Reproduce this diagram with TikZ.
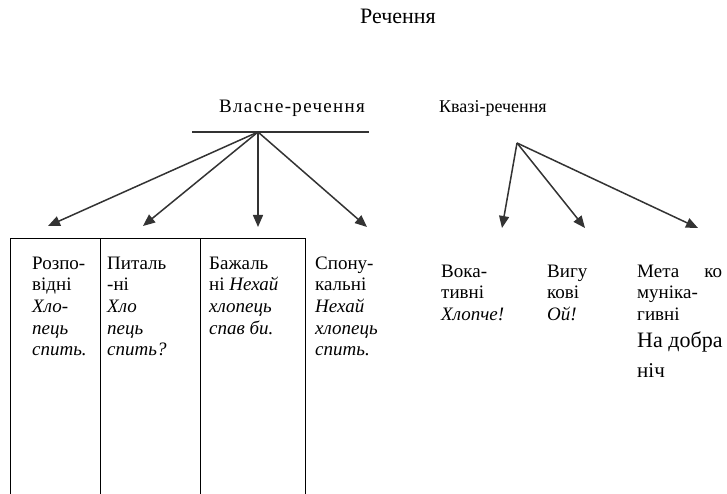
\documentclass[tikz,border=0pt]{standalone}
\usepackage{fontspec}
\setmainfont{Liberation Serif}
\usetikzlibrary{arrows.meta}
\begin{document}
\begin{tikzpicture}[x=1pt,y=-1pt,
  lbl/.style={inner sep=0pt,anchor=north west,align=left,font=\fontsize{19}{21.6}\selectfont},
  one/.style={inner sep=0pt,anchor=base west,font=\fontsize{19}{21.6}\selectfont},
  ttl/.style={inner sep=0pt,anchor=base west,font=\fontsize{18}{21.6}\selectfont},
  arr/.style={draw=black!80,line width=1.5pt,-{Triangle[length=12pt,width=10pt]}},
  tab/.style={draw=black,line width=0.9pt}]
\useasboundingbox[fill=white] (0,0) rectangle (727,494);
% titles
\node[ttl,font=\fontsize{22}{24}\selectfont] (root) at (360,24) {Речення};
\node[ttl,font=\fontsize{19}{21.6}\selectfont] (own) at (219,113) {\addfontfeature{LetterSpace=7}Власне-речення};
\node[ttl] (quasi) at (439,113) {Квазі-речення};
% bar and apexes
\coordinate (barL) at (192,132);
\coordinate (barR) at (369,132);
\draw[draw=black!80,line width=1.2pt] (barL) -- (barR);
\coordinate (apA) at (258,132);
\coordinate (apB) at (517,143);
\coordinate (t1) at (48,226);
\coordinate (t2) at (143,226);
\coordinate (t3) at (258,227);
\coordinate (t4) at (367,227);
\coordinate (t5) at (502,228);
\coordinate (t6) at (585,228);
\coordinate (t7) at (698,228);
\draw[arr] (apA) -- (t1);
\draw[arr] (apA) -- (t2);
\draw[arr] (apA) -- (t3);
\draw[arr] (apA) -- (t4);
\draw[arr] (apB) -- (t5);
\draw[arr] (apB) -- (t6);
\draw[arr] (apB) -- (t7);
% table
\coordinate (c0t) at (10,238);
\coordinate (c1t) at (100,238);
\coordinate (c2t) at (200,238);
\coordinate (c3t) at (305,238);
\coordinate (c0b) at (10,494);
\coordinate (c1b) at (100,494);
\coordinate (c2b) at (200,494);
\coordinate (c3b) at (305,494);
\draw[tab] (c0b) -- (c0t) -- (c3t) -- (c3b);
\draw[tab] (c1t) -- (c1b);
\draw[tab] (c2t) -- (c2b);
% texts (first baseline = y + 15.12)
\node[lbl] (k1) at (32,253.9) {\strut Розпо-\\відні\\\textit{Хло-}\\\textit{пець}\\\textit{спить.}};
\node[lbl] (k2) at (107,253.9) {\strut Питаль\\-ні\\\textit{Хло}\\\textit{пець}\\\textit{спить?}};
\node[lbl] (k3) at (209,253.9) {\strut Бажаль\\ні \textit{Нехай}\\\textit{хлопець}\\\textit{спав би.}};
\node[lbl] (k4) at (315,253.9) {\strut Спону-\\кальні\\\textit{Нехай}\\\textit{хлопець}\\\textit{спить.}};
\node[lbl] (k5) at (441,261.9) {\strut Вока-\\тивні\\\textit{Хлопче!}};
\node[lbl] (k6) at (547,261.9) {\strut Вигу\\кові\\\textit{Ой!}};
\node[lbl] (k7) at (637,261.9) {\strut\makebox[85pt][l]{Мета\hfill ко}\\муніка-\\гивні};
\node[one,font=\fontsize{22}{24}\selectfont] (k7b) at (637,347) {На добра};
\node[one,font=\fontsize{21}{24}\selectfont] (k7c) at (637,377) {ніч};
\end{tikzpicture}
\end{document}
